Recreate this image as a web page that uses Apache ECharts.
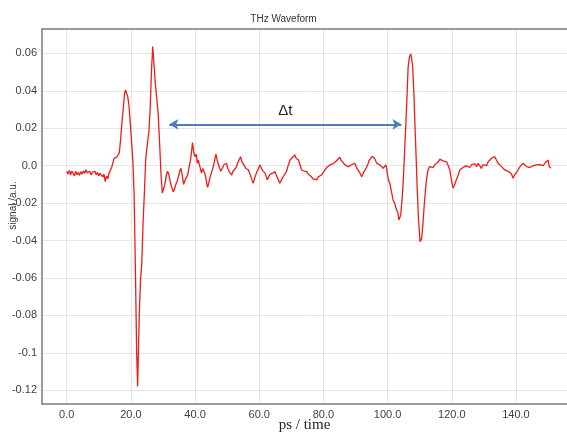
<!DOCTYPE html>
<html>
<head>
<meta charset="utf-8">
<script src="https://cdn.jsdelivr.net/npm/echarts@6/dist/echarts.min.js"></script>
<style>
  html, body { margin: 0; padding: 0; background: #fff; }
  #chart { width: 567px; height: 435px; }
</style>
</head>
<body>
<div id="chart"></div>
<script>
// THz time-domain waveform: time (ps) vs. signal (a.u.)
const timePs = [
  0, 0.4, 0.8, 1.2, 1.6, 2.0, 2.4, 2.8, 3.2, 3.6, 4.0, 4.4, 4.8, 5.2, 5.6, 6.0, 6.4, 6.8, 7.2, 7.6,
  8.0, 8.4, 8.8, 9.2, 9.6, 10.0, 10.4, 10.8, 11.2, 11.6, 12.0, 12.4, 12.8, 13.2, 13.6, 14.0, 14.4, 14.8, 15.2, 15.6,
  16.0, 16.4, 16.8, 17.2, 17.6, 18.0, 18.3, 18.6, 19.0, 19.4, 19.8, 20.2, 20.6, 21.0, 21.4, 21.8, 22.1, 22.4, 22.7, 23.0,
  23.4, 23.8, 24.2, 24.6, 24.9, 25.2, 25.6, 26.0, 26.4, 26.8, 27.2, 27.6, 28.0, 28.5, 29.0, 29.4, 29.8, 30.2, 30.6, 31.0,
  31.4, 31.8, 32.2, 32.6, 33.2, 33.6, 34.0, 34.4, 34.8, 35.2, 35.6, 36.0, 36.4, 36.8, 37.2, 37.7, 38.0, 38.4, 38.8, 39.2,
  39.6, 40.0, 40.4, 40.7, 41.0, 41.3, 41.7, 42.0, 42.4, 42.8, 43.2, 43.6, 43.9, 44.3, 44.7, 45.2, 45.6, 46.0, 46.5, 46.9,
  47.2, 47.6, 48.0, 48.2, 48.6, 49.0, 49.4, 49.8, 50.2, 50.6, 51.0, 51.4, 51.8, 52.4, 52.8, 53.2, 53.7, 54.2, 54.6, 55.0,
  55.4, 55.8, 56.2, 56.6, 57.0, 57.4, 57.8, 58.1, 58.5, 59.1, 59.6, 60.2, 60.6, 61.0, 61.4, 61.8, 62.2, 62.5, 62.9, 63.4,
  63.8, 64.2, 64.6, 64.9, 65.3, 65.8, 66.4, 66.8, 67.2, 67.6, 68.0, 68.5, 69.0, 69.6, 70.0, 70.4, 70.8, 71.1, 71.5, 71.8,
  72.2, 72.6, 73.2, 73.6, 74.0, 74.4, 74.8, 75.2, 75.6, 76.0, 76.3, 76.8, 77.4, 77.9, 78.4, 78.9, 79.4, 80.0, 80.5, 81.0,
  81.5, 82.0, 82.5, 83.0, 83.6, 84.0, 84.5, 85.1, 85.5, 86.0, 86.7, 87.2, 87.7, 88.3, 88.8, 89.3, 89.8, 90.3, 90.9, 91.4,
  91.9, 92.4, 92.9, 93.4, 93.9, 94.3, 94.8, 95.2, 95.5, 95.9, 96.3, 96.6, 97.1, 97.6, 98.1, 98.6, 99.0, 99.5, 99.9, 100.3,
  100.7, 101.2, 101.7, 102.2, 102.8, 103.2, 103.5, 104.1, 104.5, 104.9, 105.3, 105.7, 106.1, 106.4, 106.8, 107.2, 107.5, 107.8, 108.2, 108.5,
  108.9, 109.2, 109.6, 110.1, 110.6, 111.0, 111.3, 111.7, 112.1, 112.5, 113.0, 113.5, 114.2, 114.7, 115.2, 115.8, 116.3, 116.8, 117.3, 117.9,
  118.4, 118.9, 119.4, 119.9, 120.4, 120.8, 121.4, 122.0, 122.5, 123.0, 123.5, 124.0, 124.5, 125.1, 125.6, 126.1, 126.6, 127.2, 127.7, 128.2,
  128.7, 129.2, 129.7, 130.3, 130.8, 131.3, 131.8, 132.4, 132.9, 133.4, 133.9, 134.4, 134.9, 135.5, 136.0, 136.5, 137.0, 137.6, 138.1, 138.6,
  139.1, 139.5, 139.9, 140.4, 140.9, 141.5, 142.2, 142.7, 143.3, 143.8, 144.3, 144.8, 145.3, 145.9, 146.4, 146.9, 147.5, 148.0, 148.5, 149.0,
  149.5, 150.0, 150.4, 150.9
];

const signalAu = [
  -0.0030, -0.0045, -0.0025, -0.0050, -0.0028, -0.0042, -0.0055, -0.0030, -0.0048, -0.0035, -0.0052, -0.0032, -0.0045, -0.0028, -0.0040, -0.0022, -0.0038, -0.0045, -0.0030, -0.0050,
  -0.0035, -0.0042, -0.0030, -0.0048, -0.0036, -0.0055, -0.0040, -0.0030, -0.0060, -0.0045, -0.0085, -0.0055, -0.0070, -0.0040, -0.0025, -0.0010, 0.0015, 0.0040, 0.0035, 0.0045,
  0.0040, 0.0070, 0.0140, 0.0230, 0.0300, 0.0380, 0.0405, 0.0395, 0.0370, 0.0320, 0.0230, 0.0130, 0.0030, -0.0150, -0.0550, -0.1000, -0.1180, -0.0950, -0.0750, -0.0610,
  -0.0520, -0.0300, -0.0150, 0.0030, 0.0084, 0.0090, 0.0180, 0.0300, 0.0500, 0.0636, 0.0540, 0.0440, 0.0370, 0.0280, 0.0100, -0.0050, -0.0146, -0.0140, -0.0100, -0.0055,
  -0.0030, -0.0045, -0.0080, -0.0110, -0.0140, -0.0125, -0.0100, -0.0085, -0.0060, -0.0030, -0.0014, -0.0050, -0.0100, -0.0090, -0.0065, -0.0050, -0.0020, 0.0013, 0.0060, 0.0123,
  0.0070, 0.0048, 0.0060, 0.0013, 0.0030, 0.0010, -0.0020, -0.0040, -0.0015, -0.0020, -0.0050, -0.0090, -0.0116, -0.0090, -0.0060, -0.0032, -0.0010, 0.0020, 0.0062, 0.0030,
  0.0010, -0.0010, -0.0030, -0.0040, -0.0010, 0.0005, -0.0005, 0.0013, -0.0015, -0.0030, -0.0040, -0.0050, -0.0030, -0.0030, -0.0010, 0.0010, 0.0030, 0.0048, 0.0020, 0.0010,
  0.0000, -0.0015, -0.0010, -0.0022, -0.0040, -0.0060, -0.0080, -0.0094, -0.0070, -0.0040, -0.0020, 0.0004, -0.0010, -0.0025, -0.0030, -0.0040, -0.0060, -0.0076, -0.0060, -0.0045,
  -0.0050, -0.0040, -0.0030, -0.0032, -0.0050, -0.0070, -0.0094, -0.0080, -0.0070, -0.0055, -0.0060, -0.0030, 0.0000, 0.0030, 0.0020, 0.0045, 0.0040, 0.0057, 0.0040, 0.0050,
  0.0030, 0.0010, -0.0023, -0.0015, -0.0030, -0.0020, -0.0030, -0.0045, -0.0040, -0.0055, -0.0059, -0.0070, -0.0065, -0.0076, -0.0060, -0.0068, -0.0050, -0.0040, -0.0023, -0.0010,
  -0.0015, 0.0004, 0.0000, 0.0010, 0.0013, 0.0025, 0.0020, 0.0045, 0.0030, 0.0020, 0.0004, 0.0010, -0.0005, -0.0005, 0.0005, 0.0000, 0.0013, -0.0010, -0.0020, -0.0040,
  -0.0059, -0.0040, -0.0030, -0.0010, 0.0010, 0.0030, 0.0035, 0.0050, 0.0057, 0.0040, 0.0025, 0.0013, 0.0020, 0.0004, -0.0005, -0.0014, -0.0005, 0.0004, -0.0040, -0.0080,
  -0.0094, -0.0139, -0.0183, -0.0200, -0.0237, -0.0250, -0.0290, -0.0263, -0.0180, -0.0076, 0.0080, 0.0226, 0.0400, 0.0529, 0.0580, 0.0597, 0.0570, 0.0530, 0.0380, 0.0226,
  0.0040, -0.0112, -0.0280, -0.0406, -0.0390, -0.0310, -0.0237, -0.0150, -0.0076, -0.0030, -0.0005, -0.0015, -0.0010, 0.0005, 0.0015, 0.0021, 0.0035, 0.0039, 0.0025, 0.0030,
  0.0020, 0.0000, -0.0023, -0.0080, -0.0120, -0.0105, -0.0076, -0.0050, -0.0023, -0.0030, -0.0010, -0.0015, 0.0000, 0.0004, -0.0010, 0.0005, -0.0005, 0.0010, -0.0005, 0.0013,
  0.0000, -0.0015, 0.0005, 0.0013, 0.0000, 0.0020, 0.0030, 0.0040, 0.0035, 0.0048, 0.0030, 0.0013, 0.0005, -0.0005, -0.0010, -0.0023, -0.0015, -0.0030, -0.0032, -0.0045,
  -0.0067, -0.0050, -0.0040, -0.0030, -0.0015, 0.0000, 0.0013, 0.0005, -0.0005, 0.0000, -0.0010, -0.0015, 0.0000, -0.0005, 0.0004, -0.0005, 0.0005, 0.0004, 0.0000, 0.0013,
  0.0005, 0.0030, -0.0005, -0.0014
];

const xTicks = [0, 20, 40, 60, 80, 100, 120, 140];
const yTicks = [-0.12, -0.1, -0.08, -0.06, -0.04, -0.02, 0, 0.02, 0.04, 0.06];

// Echo separation marker (Δt) between the two main pulses
const deltaStart = [32.0, 0.0221];
const deltaEnd = [104.3, 0.0221];
const deltaText = 'Δt';

const points = timePs.map((t, i) => [t, signalAu[i]]);

const tickFont = {
  fontFamily: '"Liberation Sans Narrow", "Liberation Sans", Arial, sans-serif',
  fontSize: 11,
  color: '#404040'
};

const frameLine = { show: true, onZero: false, lineStyle: { color: '#7a7a7a', width: 1.5 } };

const chart = echarts.init(document.getElementById('chart'), null, { renderer: 'canvas' });

chart.setOption({
  animation: false,
  backgroundColor: '#ffffff',
  title: {
    text: 'THz Waveform',
    left: 'center',
    top: 9,
    textStyle: { fontFamily: '"Liberation Sans Narrow", Arial, sans-serif', fontSize: 10, fontWeight: 'normal', color: '#333' }
  },
  grid: { left: 42, right: 0, top: 29, bottom: 31, containLabel: false, outerBoundsMode: 'none' },
  xAxis: [{
    type: 'value',
    min: -7.7,
    max: 155.9,
    name: 'ps / time',
    nameLocation: 'middle',
    nameGap: 14,
    nameMoveOverlap: false,
    nameTextStyle: { fontFamily: '"Liberation Serif", "Times New Roman", serif', fontSize: 15, color: '#222' },
    axisLine: frameLine,
    axisTick: { show: false, customValues: xTicks },
    axisLabel: { customValues: xTicks, formatter: v => v.toFixed(1), margin: 5, ...tickFont },
    splitLine: { show: true, lineStyle: { color: '#e6e6e6', width: 1 } }
  }, {
    type: 'value',
    position: 'top',
    min: -7.7,
    max: 155.9,
    axisLine: frameLine,
    axisTick: { show: false },
    axisLabel: { show: false },
    splitLine: { show: false }
  }],
  yAxis: {
    type: 'value',
    min: -0.1273,
    max: 0.073,
    name: 'signal /a.u.',
    nameLocation: 'middle',
    nameRotate: 90,
    nameGap: 24,
    nameMoveOverlap: false,
    nameTextStyle: { fontFamily: '"Liberation Sans", Arial, sans-serif', fontSize: 10, color: '#333', padding: [0, 0, 0, 22] },
    axisLine: frameLine,
    axisTick: { show: false, customValues: yTicks },
    axisLabel: {
      customValues: yTicks,
      formatter: v => (Math.abs(v) < 1e-9 ? '0.0' : String(+v.toFixed(2))),
      margin: 5,
      ...tickFont
    },
    splitLine: { show: true, lineStyle: { color: '#e6e6e6', width: 1 } }
  },
  series: [{
    type: 'line',
    xAxisIndex: 0,
    data: points,
    showSymbol: false,
    symbol: 'none',
    lineStyle: { color: '#ee1c1c', width: 1.3 },
    z: 3,
    markLine: {
      silent: true,
      symbol: ['arrow', 'arrow'],
      symbolSize: [8, 9],
      lineStyle: { color: '#4a7cc4', width: 2, type: 'solid' },
      label: {
        show: true,
        position: 'middle',
        formatter: deltaText,
        distance: 6,
        fontFamily: '"Liberation Sans", Arial, sans-serif',
        fontSize: 15,
        color: '#222'
      },
      data: [[{ coord: deltaStart }, { coord: deltaEnd }]]
    }
  }]
});
</script>
</body>
</html>
